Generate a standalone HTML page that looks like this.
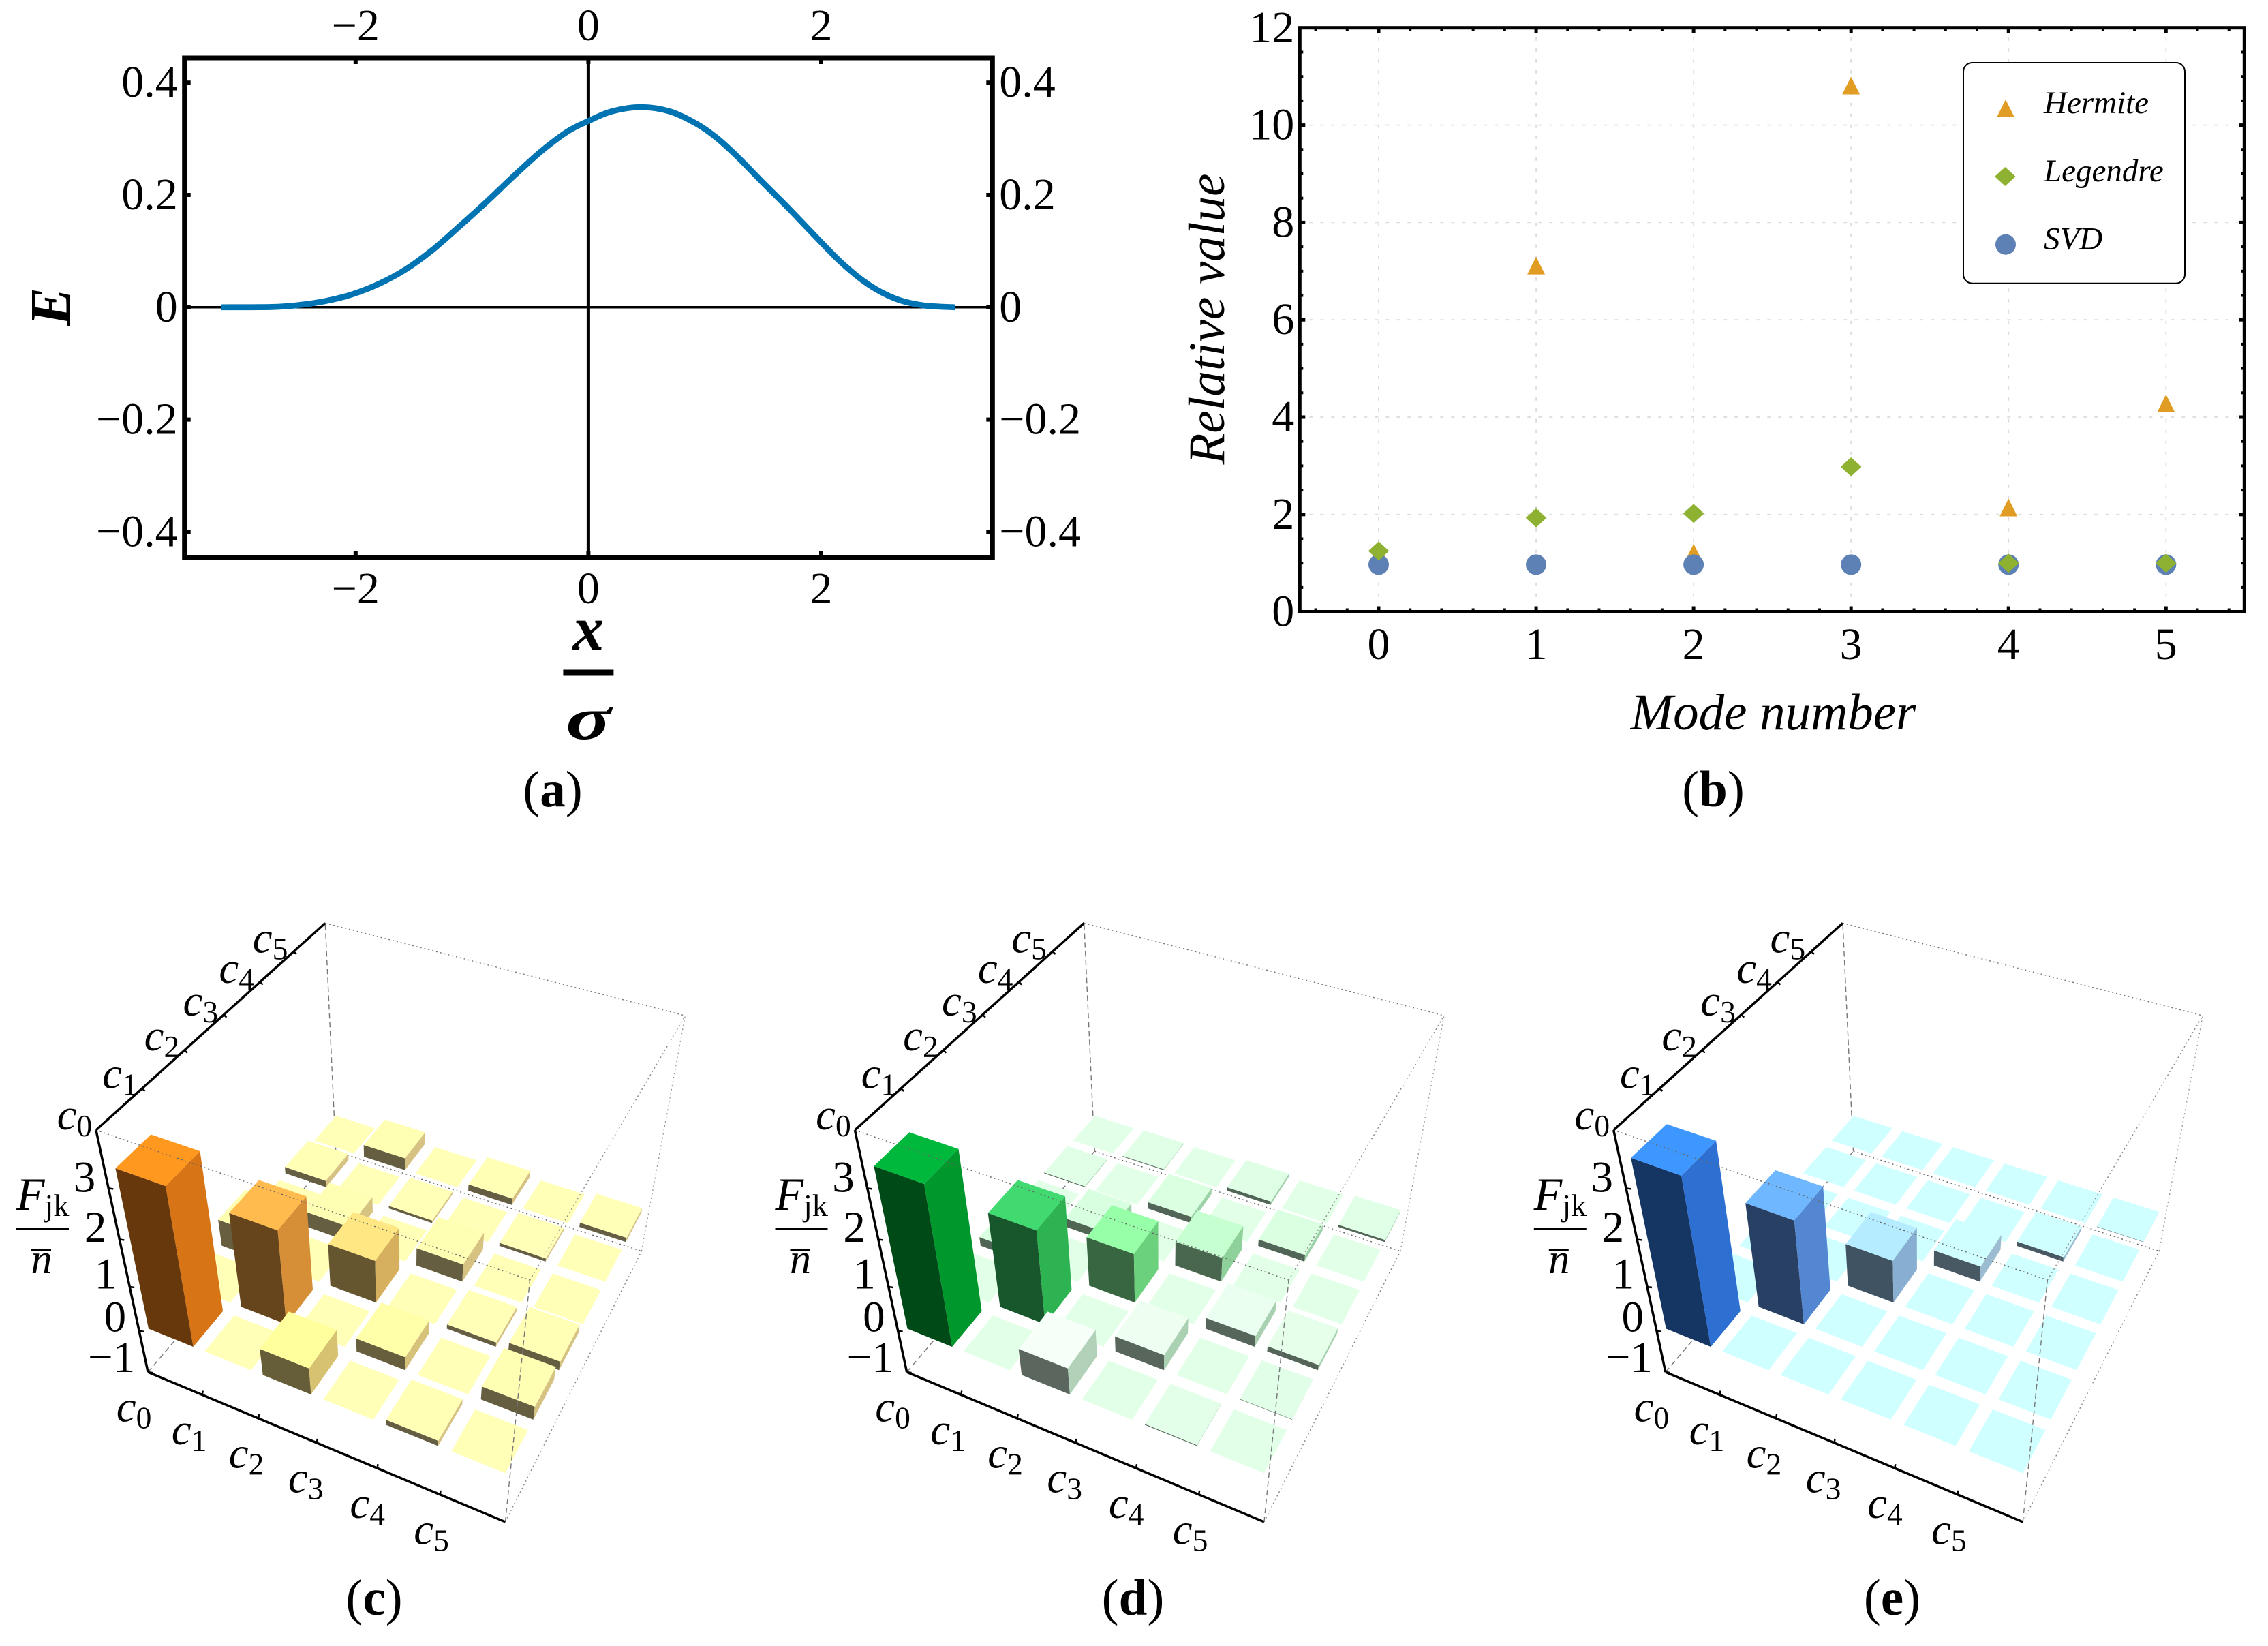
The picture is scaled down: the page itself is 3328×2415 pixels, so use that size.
<!DOCTYPE html>
<html lang="en">
<head>
<meta charset="utf-8">
<title>Mode analysis figure</title>
<style>
html,body{margin:0;padding:0;background:#fff;}
svg{display:block;font-family:"Liberation Serif",serif;}
</style>
</head>
<body>
<svg id="figure" xmlns="http://www.w3.org/2000/svg" width="3328" height="2415" viewBox="0 0 3328 2415"></svg>
<script>
// ---------- panel (a) data ----------
const curveX = [-3.155,-2.72,-2.49,-2.26,-2.03,-1.796,-1.565,-1.334,-1.103,-0.87,-0.639,-0.407,-0.176,0,0.2,0.45,0.7,0.93,1.1,1.276,1.485,1.717,1.947,2.179,2.41,2.642,2.873,3.15];
const curveE = [0,0.0005,0.0039,0.011,0.023,0.042,0.068,0.103,0.145,0.1886,0.234,0.2774,0.3133,0.3316,0.3487,0.3563,0.3487,0.3265,0.302,0.269,0.2248,0.1768,0.127,0.0784,0.04,0.015,0.0035,0];
const aXTicks = [-2,0,2];
const aXLabels = ['\u22122','0','2'];
const aYTicks = [-0.4,-0.2,0,0.2,0.4];
const aYLabels = ['\u22120.4','\u22120.2','0','0.2','0.4'];

// ---------- panel (b) data ----------
const modes = [0,1,2,3,4,5];
const hermite = [1.2,7.1,1.2,10.8,2.13,4.27];
const legendre = [1.25,1.93,2.02,2.98,1.0,1.0];
const svd = [0.97,0.97,0.97,0.97,0.97,0.97];
const bYTicks = [0,2,4,6,8,10,12];
const legendLabels = ['Hermite','Legendre','SVD'];

// ---------- panels (c)(d)(e) data: rows are v index, columns u index ----------
const cellLabels = ['0','1','2','3','4','5'];
const zTicks = [-1,0,1,2,3];
const zLabels = ['\u22121','0','1','2','3'];
const matrixC = [
 [3.33,0,-0.6,0,0.12,0],
 [0,2.05,0,-0.3,0,0.3],
 [0.6,0,0.95,0,0.1,0.2],
 [0,0.35,0,0.4,0,0],
 [0.15,0,0.06,0,0.07,0],
 [0,0.28,0,0.15,0,0.1]
];
const matrixD = [
 [3.37,0,-0.6,0,-0.02,0],
 [0,2.05,0,-0.35,0,0.01],
 [0.2,0,1.1,0,-0.25,-0.12],
 [0,0.2,0,0.55,0,0],
 [0.02,0,0.15,0,0.15,0],
 [0,0.02,0,0.08,0,0.05]
];
const matrixE = [
 [3.52,0,0,0,0,0],
 [0,2.25,0,0,0,0],
 [0,0,0.95,0,0,0],
 [0,0,0,0.35,0,0],
 [0,0,0,0,0.1,0],
 [0,0,0,0,0,0.01]
];

// ---------- helpers ----------
const NS = 'http://www.w3.org/2000/svg';
const fig = document.getElementById('figure');
function mk(tag, attrs, parent){
  const e = document.createElementNS(NS, tag);
  for(const k in attrs) e.setAttribute(k, attrs[k]);
  (parent || fig).appendChild(e);
  return e;
}
function tx(parent, str, x, y, size, anchor, style, weight){
  const e = mk('text', {x:x, y:y, 'font-size':size, 'text-anchor':anchor||'middle', 'font-style':style||'normal', 'font-weight':weight||'normal', fill:'#000'}, parent);
  e.textContent = str;
  return e;
}
function line(parent, x1, y1, x2, y2, w, color, dash){
  const a = {x1:x1, y1:y1, x2:x2, y2:y2, stroke:color||'#000', 'stroke-width':w};
  if(dash) a['stroke-dasharray'] = dash;
  return mk('line', a, parent);
}
function caption(letter, cx, y){
  const e = mk('text', {x:cx, y:y, 'font-size':75, 'text-anchor':'middle', fill:'#000'});
  
  
  const a = mk('tspan', {}, e); a.textContent = '(';
  const b = mk('tspan', {'font-weight':'bold'}, e); b.textContent = letter;
  const c = mk('tspan', {}, e); c.textContent = ')';
}

// ---------- panel (a) ----------
(function(){
  const g = mk('g', {});
  
  
  const L = 270.7, R = 1456.3, T = 85, B = 817.6;
  const X = v => 863.4 + v * 170.8;
  const Y = v => 450.8 - v * 824;
  const ax1 = line(g, L, Y(0), R, Y(0), 3.5);
  
  
  const ax2 = line(g, X(0), T, X(0), B, 5);
  
  
  const pts = curveX.map((v,i) => [X(v), Y(curveE[i])]);
  let d = 'M' + pts[0][0] + ' ' + pts[0][1];
  for(let i = 0; i < pts.length - 1; i++){
    const p0 = pts[Math.max(i-1,0)], p1 = pts[i], p2 = pts[i+1], p3 = pts[Math.min(i+2,pts.length-1)];
    d += ' C' + (p1[0]+(p2[0]-p0[0])/6) + ' ' + (p1[1]+(p2[1]-p0[1])/6) + ' ' + (p2[0]-(p3[0]-p1[0])/6) + ' ' + (p2[1]-(p3[1]-p1[1])/6) + ' ' + p2[0] + ' ' + p2[1];
  }
  const cv = mk('path', {d:d, fill:'none', stroke:'#0073b3', 'stroke-width':8.7}, g);
  
  
  const fr = mk('rect', {x:L, y:T, width:R-L, height:B-T, fill:'none', stroke:'#000', 'stroke-width':7}, g);
  
  
  aXTicks.forEach((v,i) => {
    const t1 = line(g, X(v), B, X(v), B-9, 6);
    
    
    const t2 = line(g, X(v), T, X(v), T+9, 6);
    
    
    const l1 = tx(g, aXLabels[i], X(v), 885, 66);
    
    
    const l2 = tx(g, aXLabels[i], X(v), 59, 66);
    
    
  });
  aYTicks.forEach((v,i) => {
    const t1 = line(g, L, Y(v), L+9, Y(v), 6);
    
    
    const t2 = line(g, R, Y(v), R-9, Y(v), 6);
    
    
    const l1 = tx(g, aYLabels[i], L-10, Y(v)+21, 66, 'end');
    
    
    const l2 = tx(g, aYLabels[i], R+10, Y(v)+21, 66, 'start');
    
    
  });
  const yt = tx(g, 'E', 0, 0, 84, 'middle', 'italic', 'bold');
  yt.setAttribute('transform', 'translate(102,450) rotate(-90)');
  
  
  const xn = tx(g, 'x', X(0), 953, 92, 'middle', 'italic', 'bold');
  
  
  const xr = line(g, X(0)-37, 987, X(0)+37, 987, 9);
  
  
  const xd = tx(g, '\u03c3', 0, 0, 88, 'middle', 'italic', 'bold');
  xd.setAttribute('transform', 'translate(' + X(0) + ',1084) scale(1.4,1)');
  
  
})();
caption('a', 811, 1183);

// ---------- panel (b) ----------
(function(){
  const g = mk('g', {});
  
  
  const L = 1907.3, R = 3293.3, T = 40.7, B = 897.5;
  const X = v => 2023 + v * 231.06;
  const Y = v => 897.6 - v * 71.4;
  modes.forEach(v => {
    const gl = line(g, X(v), T+14, X(v), B-10, 1.8, '#dcdcdc', '5 11');
    
    
  });
  bYTicks.forEach(v => {
    const gl = line(g, L+14, Y(v), R-10, Y(v), 1.8, '#dcdcdc', '5 11');
    
    
  });
  const drawTriangle = (x, y, parent) => mk('polygon', {points:(x)+','+(y-14)+' '+(x+13)+','+(y+12)+' '+(x-13)+','+(y+12), fill:'#e19c24'}, parent);
  const drawDiamond = (x, y, parent) => mk('polygon', {points:(x)+','+(y-14)+' '+(x+15.3)+','+(y)+' '+(x)+','+(y+14)+' '+(x-15.3)+','+(y), fill:'#8fb131'}, parent);
  const drawCircle = (x, y, parent) => mk('circle', {cx:x, cy:y, r:15, fill:'#5e81b5'}, parent);
  modes.forEach((m,i) => {
    const p = drawTriangle(X(m), Y(hermite[i]), g);
    
    
  });
  modes.forEach((m,i) => {
    const p = drawCircle(X(m), Y(svd[i]), g);
    
    
  });
  modes.forEach((m,i) => {
    const p = drawDiamond(X(m), Y(legendre[i]), g);
    
    
  });
  const fr = mk('rect', {x:L, y:T, width:R-L, height:B-T, fill:'none', stroke:'#000', 'stroke-width':5}, g);
  
  
  for(let k = -2; k <= 27; k++){
    const v = k * 0.2;
    const x = X(v);
    if(x < L+4 || x > R-4) continue;
    const major = k % 5 === 0;
    const len = major ? 8 : 5;
    const t1 = line(g, x, B, x, B-len, major?5:4);
    
    
    const t2 = line(g, x, T, x, T+len, major?5:4);
    
    
  }
  for(let k = 1; k < 24; k++){
    const v = k * 0.5;
    const major = k % 4 === 0;
    const len = major ? 8 : 5;
    const t1 = line(g, L, Y(v), L+len, Y(v), major?5:4);
    
    
    const t2 = line(g, R, Y(v), R-len, Y(v), major?5:4);
    
    
  }
  modes.forEach(v => {
    const l = tx(g, String(v), X(v), 967, 66);
    
    
  });
  bYTicks.forEach(v => {
    const l = tx(g, String(v), L-8, Y(v)+21, 66, 'end');
    
    
  });
  const xt = tx(g, 'Mode number', 2602, 1070, 75, 'middle', 'italic');
  
  
  const yt = tx(g, 'Relative value', 0, 0, 75, 'middle', 'italic');
  yt.setAttribute('transform', 'translate(1796,468) rotate(-90)');
  
  
  // legend
  const lg = mk('g', {}, g);
  
  
  const box = mk('rect', {x:2881, y:92, width:325, height:323.7, rx:13, ry:13, fill:'#fff', stroke:'#000', 'stroke-width':2}, lg);
  
  
  const m1 = drawTriangle(2943, 160, lg);
  
  
  const m2 = drawDiamond(2942.3, 259, lg);
  
  
  const m3 = drawCircle(2943, 358.7, lg);
  
  
  [166,266,365.7].forEach((by,i) => {
    const t = tx(lg, legendLabels[i], 2999, by, 47, 'start', 'italic');
    
    
  });
})();
caption('b', 2514, 1183);

// ---------- 3D camera fit from the bounding box of the plot ----------
const Z_BOT = -1, Z_TOP = 4.05;
const boxWorld = [[0,0,Z_BOT],[6,0,Z_BOT],[0,6,Z_BOT],[6,6,Z_BOT],[0,0,Z_TOP],[6,0,Z_TOP],[0,6,Z_TOP],[6,6,Z_TOP]];
const boxScreen = [[217.7,2013.4],[741.7,2232.7],[492.2,1688],[941.2,1836.8],[140,1658.7],[777.5,1877.3],[478,1354.9],[1005.4,1489.7]];
function fitCamera(){
  const A = [], b = [];
  boxWorld.forEach((w,i) => {
    const sx = boxScreen[i][0]/1000, sy = boxScreen[i][1]/1000;
    A.push([w[0],w[1],w[2],1,0,0,0,0,-sx*w[0],-sx*w[1],-sx*w[2]]); b.push(sx);
    A.push([0,0,0,0,w[0],w[1],w[2],1,-sy*w[0],-sy*w[1],-sy*w[2]]); b.push(sy);
  });
  const n = 11;
  const M = [];
  for(let r = 0; r < n; r++){
    M.push(new Array(n+1).fill(0));
    for(let c = 0; c < n; c++) for(let k = 0; k < A.length; k++) M[r][c] += A[k][r]*A[k][c];
    for(let k = 0; k < A.length; k++) M[r][n] += A[k][r]*b[k];
  }
  for(let c = 0; c < n; c++){
    let p = c;
    for(let r = c+1; r < n; r++) if(Math.abs(M[r][c]) > Math.abs(M[p][c])) p = r;
    const tmp = M[c]; M[c] = M[p]; M[p] = tmp;
    for(let r = 0; r < n; r++){
      if(r === c) continue;
      const f = M[r][c]/M[c][c];
      for(let k = c; k <= n; k++) M[r][k] -= f*M[c][k];
    }
  }
  return M.map((row,i) => row[n]/row[i]);
}
const cam = fitCamera();
function depth(u,v,z){ return cam[8]*u + cam[9]*v + cam[10]*z + 1; }
function project(u,v,z){
  const w = depth(u,v,z);
  return [1000*(cam[0]*u+cam[1]*v+cam[2]*z+cam[3])/w, 1000*(cam[4]*u+cam[5]*v+cam[6]*z+cam[7])/w];
}
function polyPoints(list){
  return list.map(p => { const s = project(p[0],p[1],p[2]); return s[0].toFixed(1)+','+s[1].toFixed(1); }).join(' ');
}
function rampColor(ramp, value){
  if(value <= ramp[0][0]) return ramp[0].slice(1);
  for(let i = 1; i < ramp.length; i++){
    if(value <= ramp[i][0]){
      const t = (value-ramp[i-1][0])/(ramp[i][0]-ramp[i-1][0]);
      return [1,2,3].map(k => ramp[i-1][k]+(ramp[i][k]-ramp[i-1][k])*t);
    }
  }
  return ramp[ramp.length-1].slice(1);
}
function rgb(c, f){ return 'rgb('+Math.round(c[0]*f[0])+','+Math.round(c[1]*f[1])+','+Math.round(c[2]*f[2])+')'; }
const rampC = [[-0.6,255,255,156],[0,255,255,184],[0.6,255,255,176],[0.95,255,232,131],[2.05,255,187,77],[3.3,255,152,31]];
const rampD = [[-0.6,246,255,248],[0,226,255,232],[0.55,198,255,208],[1.1,150,255,168],[2.05,64,218,112],[3.35,0,184,60]];
const rampE = [[0,208,255,255],[0.35,208,255,255],[0.95,181,236,255],[2.25,111,183,255],[3.5,61,151,255]];
const shadeC = {right:[0.84,0.76,0.72], front:[0.40,0.37,0.36]};
const shadeD = {right:[0.72,0.82,0.74], front:[0.37,0.40,0.38]};
const shadeE = {right:[0.75,0.74,0.82], front:[0.35,0.35,0.39]};

function cLabel(g, cx, cy, sub, size){
  const e = mk('text', {x:cx, y:cy, 'font-size':size, 'text-anchor':'middle', fill:'#000'}, g);
  const a = mk('tspan', {'font-style':'italic'}, e); a.textContent = 'c';
  const b = mk('tspan', {dy:10, 'font-size':size*0.7}, e); b.textContent = sub;
  return e;
}

function drawPanel3D(mat, ramp, shade, dx, panelName){
  const g = mk('g', {transform:'translate('+dx+',0)'});
  
  
  const gap = 0.1;
  const backEdges = [
    [[0,0,Z_BOT],[0,6,Z_BOT],'8 5',1.4,'#777'],
    [[0,6,Z_BOT],[6,6,Z_BOT],'2 4',1.4,'#666'],
    [[0,6,Z_BOT],[0,6,Z_TOP],'8 5',1.4,'#777'],
    [[0,6,Z_TOP],[6,6,Z_TOP],'2 4',1.4,'#777'],
    [[6,6,Z_BOT],[6,6,Z_TOP],'2 4',1.4,'#999']
  ];
  backEdges.forEach(ed => {
    const a = project(ed[0][0],ed[0][1],ed[0][2]), b = project(ed[1][0],ed[1][1],ed[1][2]);
    const l = line(g, a[0],a[1],b[0],b[1], ed[3], ed[4], ed[2]);
    
    
  });
  const cells = [];
  for(let v = 0; v < 6; v++) for(let u = 0; u < 6; u++){
    cells.push({u:u, v:v, value:mat[v][u], d:depth(u+0.5,v+0.5,0)});
  }
  cells.sort((a,b) => b.d - a.d);
  cells.forEach(c => {
    const u0 = c.u+gap, u1 = c.u+1-gap, v0 = c.v+gap, v1 = c.v+1-gap, h = Math.abs(c.value);
    const col = rampColor(ramp, c.value);
    const bar = mk('g', {}, g);
    
    
    if(h > 0){
      const fr = mk('polygon', {points:polyPoints([[u0,v0,0],[u1,v0,0],[u1,v0,h],[u0,v0,h]]), fill:rgb(col,shade.front)}, bar);
      
      
      const rt = mk('polygon', {points:polyPoints([[u1,v0,0],[u1,v1,0],[u1,v1,h],[u1,v0,h]]), fill:rgb(col,shade.right)}, bar);
      
      
    }
    const tp = mk('polygon', {points:polyPoints([[u0,v0,h],[u1,v0,h],[u1,v1,h],[u0,v1,h]]), fill:rgb(col,[1,1,1])}, bar);
    
    
  });
  const frontEdges = [
    [[0,0,Z_TOP],[6,0,Z_TOP],'2 4',1.4,'#666'],
    [[6,0,Z_TOP],[6,6,Z_TOP],'2 4',1.4,'#888'],
    [[6,0,Z_BOT],[6,0,Z_TOP],'8 5',1.4,'#777'],
    [[6,0,Z_BOT],[6,6,Z_BOT],'2 4',1.4,'#888']
  ];
  frontEdges.forEach(ed => {
    const a = project(ed[0][0],ed[0][1],ed[0][2]), b = project(ed[1][0],ed[1][1],ed[1][2]);
    const l = line(g, a[0],a[1],b[0],b[1], ed[3], ed[4], ed[2]);
    
    
  });
  const o = project(0,0,Z_BOT), ux = project(6,0,Z_BOT), oz = project(0,0,Z_TOP), vt = project(0,6,Z_TOP);
  const a1 = line(g, o[0],o[1],ux[0],ux[1],3.5);
  
  
  const a2 = line(g, o[0],o[1],oz[0],oz[1],3.5);
  
  
  const a3 = line(g, oz[0],oz[1],vt[0],vt[1],3.5);
  
  
  for(let i = 1; i < 6; i++){
    const p = project(i,0,Z_BOT);
    const t = line(g,p[0],p[1],p[0]+1,p[1]-6,2.5);
    
    
    const q = project(0,i,Z_TOP);
    const t2 = line(g,q[0],q[1],q[0]+4,q[1]+4,2.5);
    
    
  }
  cellLabels.forEach((s,i) => {
    const p = project(i+0.5,0,Z_BOT);
    const l1 = cLabel(g, p[0]-60, p[1]+56-i*0.6, s, 65);
    
    
    const q = project(0,i+0.5,Z_TOP);
    const l2 = cLabel(g, q[0]-66+i*1.6, q[1]+30-i*1.5, s, 65);
    
    
  });
  zTicks.forEach((z,i) => {
    const p = project(0,0,z);
    const t = line(g,p[0],p[1],p[0]+7,p[1]+1,2.5);
    
    
    const l = tx(g, zLabels[i], p[0]-19, p[1]+1+z*1.3, 65, 'end');
    
    
  });
  const f = mk('text', {x:24, y:1775, 'font-size':68, fill:'#000'}, g);
  
  
  const f1 = mk('tspan', {'font-style':'italic'}, f); f1.textContent = 'F';
  const f2 = mk('tspan', {dy:9, 'font-size':46}, f); f2.textContent = 'jk';
  const rl = line(g, 24, 1803, 101, 1803, 3.5);
  
  
  const n = tx(g, 'n', 61, 1868, 62, 'middle', 'italic');
  
  
  const nb = line(g, 46, 1834, 75, 1834, 2.5);
  
  
}
drawPanel3D(matrixC, rampC, shadeC, 0, 'panel-c-matrix-plot');
drawPanel3D(matrixD, rampD, shadeD, 1113.5, 'panel-d-matrix-plot');
drawPanel3D(matrixE, rampE, shadeE, 2226.8, 'panel-e-matrix-plot');
caption('c', 549, 2369);
caption('d', 1662.5, 2369);
caption('e', 2776.5, 2369);
</script>
</body>
</html>
